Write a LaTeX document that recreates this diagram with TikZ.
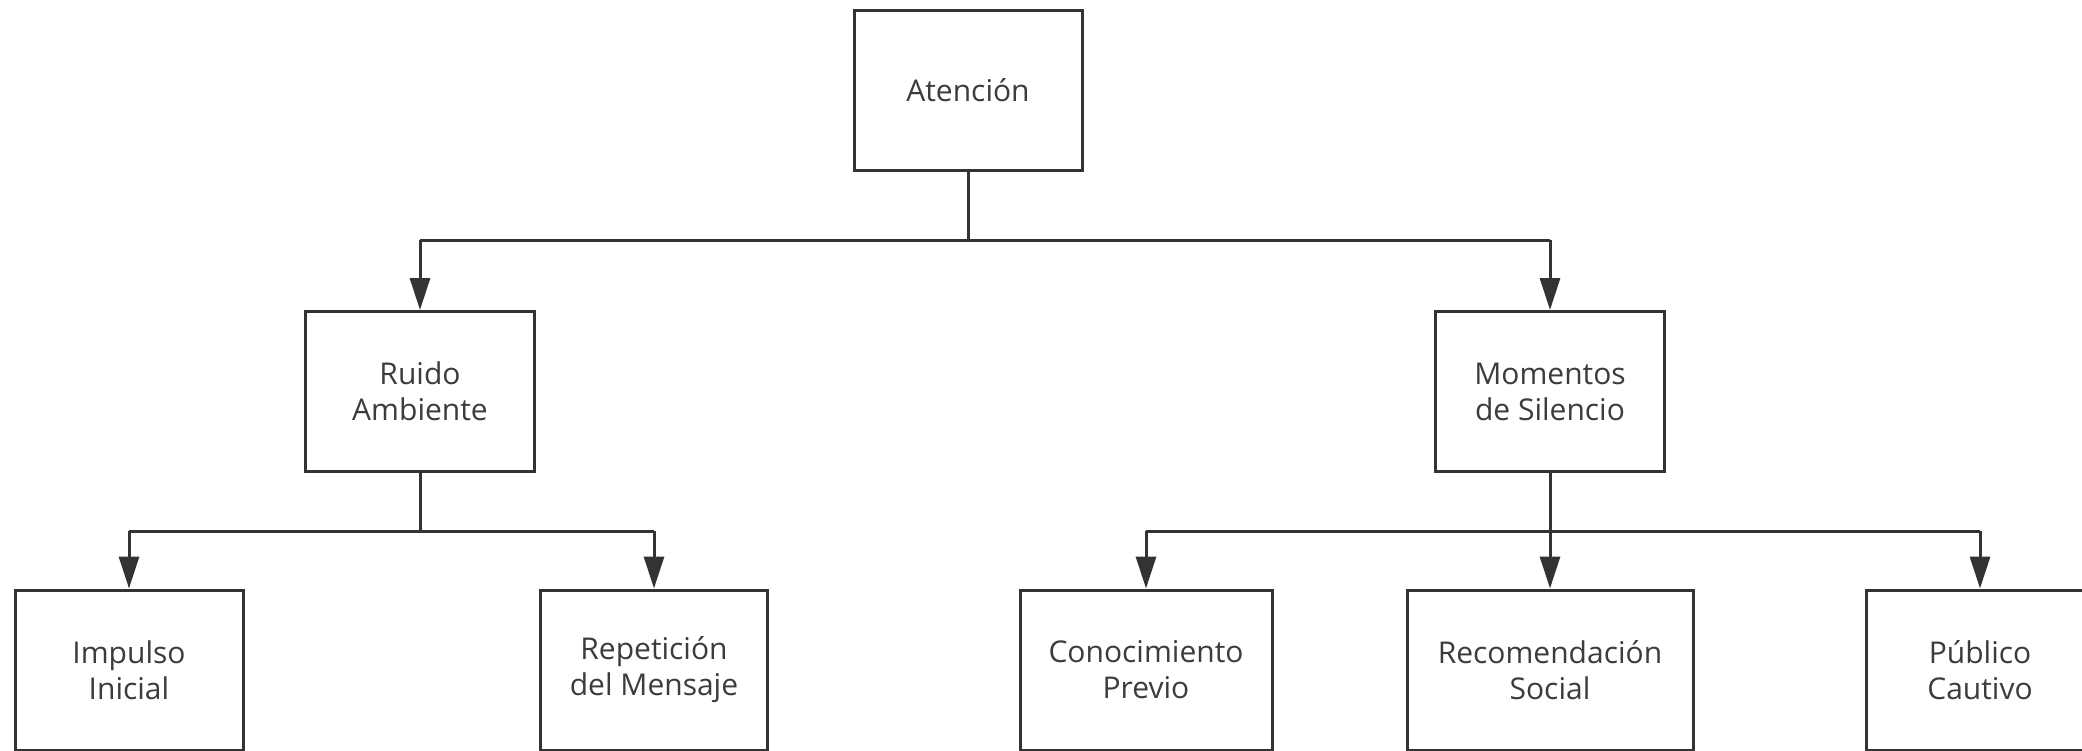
\documentclass[tikz,border=0pt]{standalone}
\usepackage{fontspec}
\setmainfont{Open Sans}
\usetikzlibrary{arrows.meta}
\definecolor{ink}{HTML}{333333}
\definecolor{txt}{HTML}{3C3C3C}
\begin{document}
\begin{tikzpicture}[x=0.5pt,y=-0.5pt,
  box/.style={draw=ink,line width=1.5pt,fill=white,inner sep=0pt,align=center,
    text=txt,font=\fontsize{15}{18}\selectfont,minimum height=80pt},
  conn/.style={draw=ink,line width=1.5pt},
  arr/.style={conn,-{Triangle[length=16pt,width=10pt]}}]
\useasboundingbox (0,0) rectangle (2082,750);
\node[box,minimum width=114pt] (atn) at (968,90) {Atención};
\node[box,minimum width=114.5pt] (rui) at (420,391.5) {Ruido\\Ambiente};
\node[box,minimum width=114.5pt] (mom) at (1550,391.5) {Momentos\\de Silencio};
\node[box,minimum width=114pt] (imp) at (129,670) {Impulso\\Inicial};
\node[box,minimum width=113.5pt] (rep) at (654,670) {Repetición\\del Mensaje};
\node[box,minimum width=126pt] (con) at (1146,670) {Conocimiento\\Previo};
\node[box,minimum width=143pt] (rec) at (1550,670) {Recomendación\\Social};
\node[box,minimum width=114pt] (pub) at (1980,670) {Público\\Cautivo};
\coordinate (b1) at (968,240);
\coordinate (b2) at (420,531);
\coordinate (b3) at (1550,531);
\draw[conn] (atn.south) -- (b1);
\draw[conn] (b1) -- (b1 -| rui.north) -- (b1 -| mom.north);
\draw[arr] (b1 -| rui.north) -- (rui.north);
\draw[arr] (b1 -| mom.north) -- (mom.north);
\draw[conn] (rui.south) -- (b2);
\draw[conn] (b2 -| imp.north) -- (b2 -| rep.north);
\draw[arr] (b2 -| imp.north) -- (imp.north);
\draw[arr] (b2 -| rep.north) -- (rep.north);
\draw[conn] (mom.south) -- (b3);
\draw[conn] (b3 -| con.north) -- (b3 -| pub.north);
\draw[arr] (b3 -| con.north) -- (con.north);
\draw[arr] (b3) -- (rec.north);
\draw[arr] (b3 -| pub.north) -- (pub.north);
\end{tikzpicture}
\end{document}
